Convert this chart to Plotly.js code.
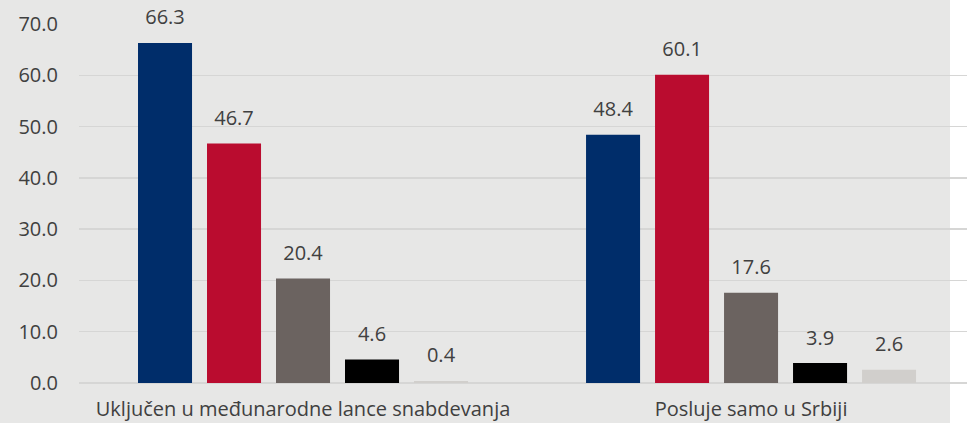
<!DOCTYPE html>
<html>
<head>
<meta charset="utf-8">
<script src="https://cdn.plot.ly/plotly-3.0.1.min.js"></script>
<style>html,body{margin:0;padding:0;background:#fff;}#chart{width:967px;height:423px;}</style>
</head>
<body>
<div id="chart"></div>
<script>
const categories = ["Uključen u međunarodne lance snabdevanja", "Posluje samo u Srbiji"];
const seriesNames = ["Serija 1", "Serija 2", "Serija 3", "Serija 4", "Serija 5"];
const series1 = [66.3, 48.4];
const series2 = [46.7, 60.1];
const series3 = [20.4, 17.6];
const series4 = [4.6, 3.9];
const series5 = [0.4, 2.6];
const yTicks = [0, 10, 20, 30, 40, 50, 60, 70];

const colors = ["#002d6a", "#ba0c2f", "#6b6360", "#000000", "#d1cfcc"];
const allSeries = [series1, series2, series3, series4, series5];
const FONT = "'Open Sans', Lato, sans-serif";

const barTraces = allSeries.map((vals, i) => ({
  type: "bar",
  name: seriesNames[i],
  x: categories,
  y: vals,
  marker: {color: colors[i]},
  hoverinfo: "none"
}));

const labelTraces = allSeries.map((vals, i) => ({
  type: "scatter",
  mode: "markers+text",
  name: seriesNames[i] + " label",
  x: categories,
  y: vals,
  marker: {size: 20, color: "rgba(0,0,0,0)"},
  text: vals.map(v => v.toFixed(1)),
  textposition: "top center",
  cliponaxis: false,
  textfont: {family: FONT, size: 20, color: "#404040"},
  hoverinfo: "none",
  showlegend: false
}));

const layout = {
  width: 967, height: 423,
  margin: {l: 79, r: 0, t: 24, b: 40},
  paper_bgcolor: "#e7e7e6",
  plot_bgcolor: "rgba(0,0,0,0)",
  showlegend: false,
  barmode: "group",
  bargap: 0.23,
  bargroupgap: 0.217,
  scattermode: "group",
  scattergap: 0.23,
  font: {family: FONT, color: "#404040", size: 20},
  xaxis: {
    type: "category",
    range: [-0.5, 1.482],
    showgrid: false, zeroline: false, showline: false,
    ticks: "", ticklabelstandoff: 12,
    tickfont: {family: FONT, size: 20, color: "#404040"}
  },
  yaxis: {
    range: [0, 70],
    tickvals: yTicks,
    ticktext: yTicks.map(v => v.toFixed(1)),
    showgrid: true, gridcolor: "#d6d6d5", gridwidth: 1.5,
    zeroline: true, zerolinecolor: "#d6d6d5", zerolinewidth: 1.5,
    showline: false, ticks: "", ticklabelstandoff: 20,
    tickfont: {family: FONT, size: 20, color: "#404040"}
  },
  shapes: [{
    type: "rect", xref: "paper", yref: "paper", layer: "below",
    x0: (950 - 79) / 888, x1: 1.1, y0: -1, y1: 2,
    fillcolor: "#ffffff", line: {width: 0}
  }]
};

Plotly.newPlot("chart", barTraces.concat(labelTraces), layout, {displayModeBar: false, staticPlot: true});
</script>
</body>
</html>
